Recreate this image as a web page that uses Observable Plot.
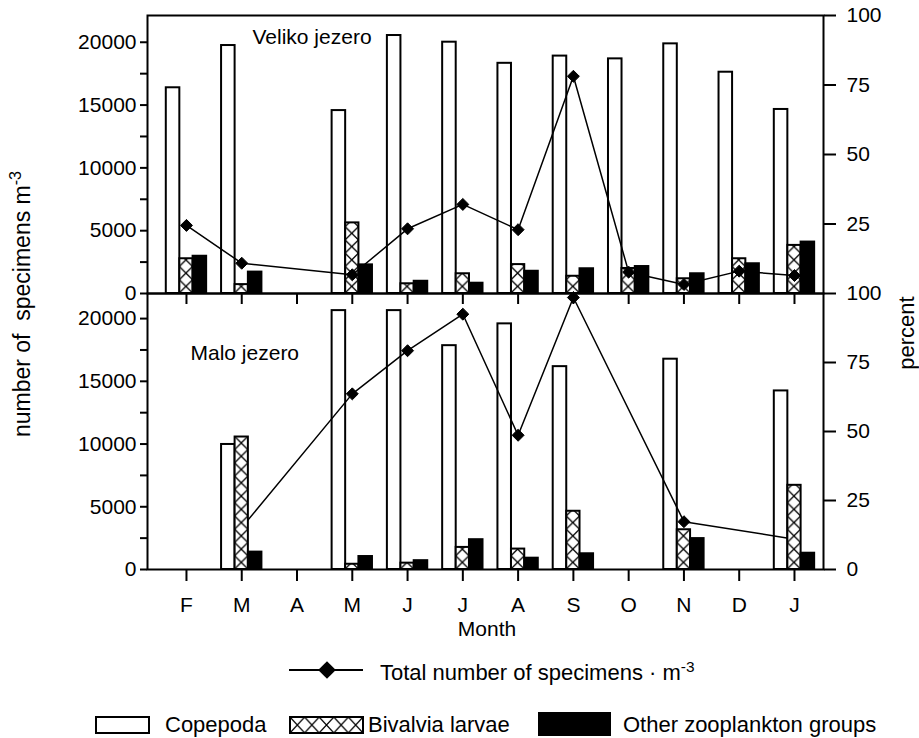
<!DOCTYPE html>
<html><head><meta charset="utf-8">
<script src="https://cdn.jsdelivr.net/npm/d3@7"></script>
<script src="https://cdn.jsdelivr.net/npm/@observablehq/plot@0.6"></script>
<style>
body{margin:0;background:#fff;}
#chart{position:relative;width:919px;height:738px;font-family:"Liberation Sans",Arial,sans-serif;color:#000;overflow:hidden;}
#chart svg{position:absolute;left:0;top:0;}
.lbl{position:absolute;white-space:pre;font-size:21px;line-height:1;transform:translate(-50%,-50%);}
.lg{position:absolute;white-space:pre;font-size:22px;line-height:1;transform:translate(0,-50%);}
sup{font-size:0.7em;vertical-align:0.55em;line-height:0;}
</style></head><body><div id="chart"></div>
<script>
const months = ["F","M","A","M","J","J","A","S","O","N","D","J"];
const groups = ["Copepoda","Bivalvia larvae","Other zooplankton groups"];
// Veliko jezero: composition (%) and total number of specimens per m3
const velikoCopepoda = [74.0, 89.2, null, 65.8, 92.8, 90.4, 82.8, 85.4, 84.4, 89.8, 79.6, 66.2];
const velikoBivalvia = [12.5, 3.2, null, 25.4, 3.5, 7.1, 10.4, 6.2, 9.0, 5.3, 12.5, 17.3];
const velikoOther    = [13.4, 7.7, null, 10.3, 4.4, 3.7, 8.0, 8.9, 9.7, 7.1, 10.7, 18.5];
const velikoTotal    = [5420, 2410, null, 1490, 5150, 7090, 5080, 17290, 1700, 720, 1780, 1430];
// Malo jezero
const maloCopepoda = [null, 45.3, null, 93.8, 93.8, 81.1, 89.0, 73.5, null, 76.2, null, 64.7];
const maloBivalvia = [null, 48.0, null, 1.9, 2.3, 8.0, 7.4, 21.1, null, 14.4, null, 30.5];
const maloOther    = [null, 6.3, null, 4.7, 3.2, 10.8, 4.1, 5.7, null, 11.2, null, 5.9];
const maloTotal    = [null, 3340, null, 14000, 17440, 20350, 10700, 21680, null, 3810, null, 2420];
const percentTicks = [0, 25, 50, 75, 100];
const numberTicks = d3.range(0, 20001, 2500);

const FONT = '"Liberation Sans", Arial, sans-serif';
const W = 919, H = 738;
const chart = document.getElementById("chart");

function barRows(cop, biv, oth) {
  const out = [];
  months.forEach((m, i) => {
    if (cop[i] != null) out.push({i, g: groups[0], v: cop[i]});
    if (biv[i] != null) out.push({i, g: groups[1], v: biv[i]});
    if (oth[i] != null) out.push({i, g: groups[2], v: oth[i]});
  });
  return out;
}
function lineRows(tot) {
  return tot.map((v, i) => ({i, v})).filter(d => d.v != null);
}
const off = {};
off[groups[0]] = [-0.365, -0.12];
off[groups[1]] = [-0.12, 0.12];
off[groups[2]] = [0.12, 0.365];

const base = (mt, mb) => ({
  width: W, height: H, marginLeft: 147, marginRight: 96, marginTop: mt, marginBottom: mb,
  style: {background: "none", overflow: "visible", fontFamily: FONT, fontSize: "21px", color: "black"}
});
const xDomain = [-0.705, 11.525];

function rects(rows, g, fill) {
  return Plot.rect(rows.filter(d => d.g === g), {
    x1: d => d.i + off[g][0], x2: d => d.i + off[g][1], y1: 0, y2: "v",
    fill, stroke: "black", strokeWidth: 2
  });
}
function lineMarks(rows) {
  return [
    Plot.line(rows, {x: "i", y: "v", stroke: "black", strokeWidth: 1.5}),
    Plot.dot(rows, {x: "i", y: "v", symbol: "diamond2", r: 5.4, fill: "black", stroke: "black", strokeWidth: 1})
  ];
}
function addHatch(plot, id) {
  const xs = plot.scale("x"), ys = plot.scale("y");
  const l = xs.apply(off[groups[1]][0]), r = xs.apply(off[groups[1]][1]);
  const step = xs.apply(1) - xs.apply(0), w = r - l;
  const defs = d3.select(plot).insert("defs", ":first-child");
  const p = defs.append("pattern").attr("id", id).attr("patternUnits", "userSpaceOnUse")
    .attr("width", step).attr("height", w)
    .attr("patternTransform", `translate(${l},${ys.apply(0)})`);
  p.append("rect").attr("width", step).attr("height", w).attr("fill", "white");
  p.append("path").attr("d", `M0,0L${w},${w}M${w},0L0,${w}`).attr("stroke", "black").attr("stroke-width", 1.3).attr("fill", "none");
}

// ---------- Top panel: Veliko jezero (bars under the line) ----------
const topRows = barRows(velikoCopepoda, velikoBivalvia, velikoOther);
const topBars = Plot.plot({
  ...base(15, H - 293),
  x: {domain: xDomain},
  y: {domain: [0, 100]},
  marks: [
    rects(topRows, groups[0], "white"),
    rects(topRows, groups[1], "url(#hatchTop)"),
    rects(topRows, groups[2], "black"),
    Plot.axisY({anchor: "right", ticks: percentTicks.filter(d => d > 0), tickSize: 12, tickPadding: 11, strokeWidth: 2, label: null}),
    Plot.axisX({anchor: "bottom", ticks: d3.range(months.length), tickSize: 11, tickFormat: () => "", strokeWidth: 2, label: null}),
    Plot.frame({stroke: "black", strokeWidth: 2})
  ]
});
addHatch(topBars, "hatchTop");

const topLine = Plot.plot({
  ...base(15, H - 293),
  x: {domain: xDomain, axis: null},
  y: {domain: [0, 22130]},
  marks: [
    ...lineMarks(lineRows(velikoTotal)),
    Plot.axisY({anchor: "left", ticks: numberTicks, tickSize: 7, tickPadding: 4, strokeWidth: 2, label: null,
      tickFormat: d => d % 5000 ? "" : String(d)}),
    Plot.text(["Veliko jezero"], {frameAnchor: "top-left", dx: 105, dy: 14, fontSize: 21})
  ]
});

// ---------- Bottom panel: Malo jezero (line over Copepoda, under the other bars) ----------
const botRows = barRows(maloCopepoda, maloBivalvia, maloOther);
const botBack = Plot.plot({
  ...base(293, H - 569),
  x: {domain: xDomain},
  y: {domain: [0, 100]},
  marks: [
    rects(botRows, groups[0], "white"),
    Plot.axisY({anchor: "right", ticks: percentTicks, tickSize: 12, tickPadding: 11, strokeWidth: 2, label: null}),
    Plot.axisX({anchor: "bottom", ticks: d3.range(months.length), tickSize: 12, tickPadding: 16, strokeWidth: 2, label: null,
      tickFormat: i => months[i]}),
    Plot.frame({stroke: "black", strokeWidth: 2})
  ]
});

const botLine = Plot.plot({
  ...base(293, H - 569),
  x: {domain: xDomain, axis: null},
  y: {domain: [0, 22000]},
  marks: [
    ...lineMarks(lineRows(maloTotal)),
    Plot.axisY({anchor: "left", ticks: numberTicks, tickSize: 7, tickPadding: 4, strokeWidth: 2, label: null,
      tickFormat: d => d % 5000 ? "" : String(d)}),
    Plot.text(["Malo jezero"], {frameAnchor: "top-left", dx: 43, dy: 52, fontSize: 21})
  ]
});

const botFront = Plot.plot({
  ...base(293, H - 569),
  x: {domain: xDomain, axis: null},
  y: {domain: [0, 100], axis: null},
  marks: [
    rects(botRows, groups[1], "url(#hatchBot)"),
    rects(botRows, groups[2], "black")
  ]
});
addHatch(botFront, "hatchBot");

chart.append(topBars, topLine, botBack, botLine, botFront);

// ---------- Axis titles ----------
function label(html, x, y, rot, cls, size) {
  const d = document.createElement("div");
  d.className = cls || "lbl";
  d.innerHTML = html;
  d.style.left = x + "px"; d.style.top = y + "px";
  if (size) d.style.fontSize = size + "px";
  if (rot) d.style.transform = "translate(-50%,-50%) rotate(-90deg)";
  chart.append(d);
  return d;
}
label("number of  specimens m<sup>-3</sup>", 22, 304, true, null, 23);
label("percent", 907, 333, true, null, 22);
label("Month", 487, 628, false);

// ---------- Legend ----------
const lg = d3.select(chart).append("svg").attr("width", W).attr("height", H).style("pointer-events", "none");
const ld = lg.append("defs").append("pattern").attr("id", "hatchLegend").attr("patternUnits", "userSpaceOnUse")
  .attr("width", 14.6).attr("height", 16).attr("patternTransform", "translate(290,717)");
ld.append("rect").attr("width", 14.6).attr("height", 16).attr("fill", "white");
ld.append("path").attr("d", "M0,0L14.6,16M14.6,0L0,16").attr("stroke", "black").attr("stroke-width", 1.2);
lg.append("line").attr("x1", 289).attr("x2", 363).attr("y1", 670).attr("y2", 670).attr("stroke", "black").attr("stroke-width", 2);
lg.append("path").attr("d", d3.symbol(d3.symbolDiamond2, 200)()).attr("transform", "translate(327,670)").attr("fill", "black");
lg.append("rect").attr("x", 96).attr("y", 717).attr("width", 53).attr("height", 16).attr("fill", "white").attr("stroke", "black").attr("stroke-width", 2);
lg.append("rect").attr("x", 290).attr("y", 717).attr("width", 73).attr("height", 16).attr("fill", "url(#hatchLegend)").attr("stroke", "black").attr("stroke-width", 2);
lg.append("rect").attr("x", 538).attr("y", 712).attr("width", 73).attr("height", 24).attr("fill", "black");

label("Total number of specimens · m<sup>-3</sup>", 380, 673, false, "lg");
label(groups[0], 165, 725, false, "lg");
label(groups[1], 368, 725, false, "lg");
label(groups[2], 623, 725, false, "lg");
</script></body></html>
